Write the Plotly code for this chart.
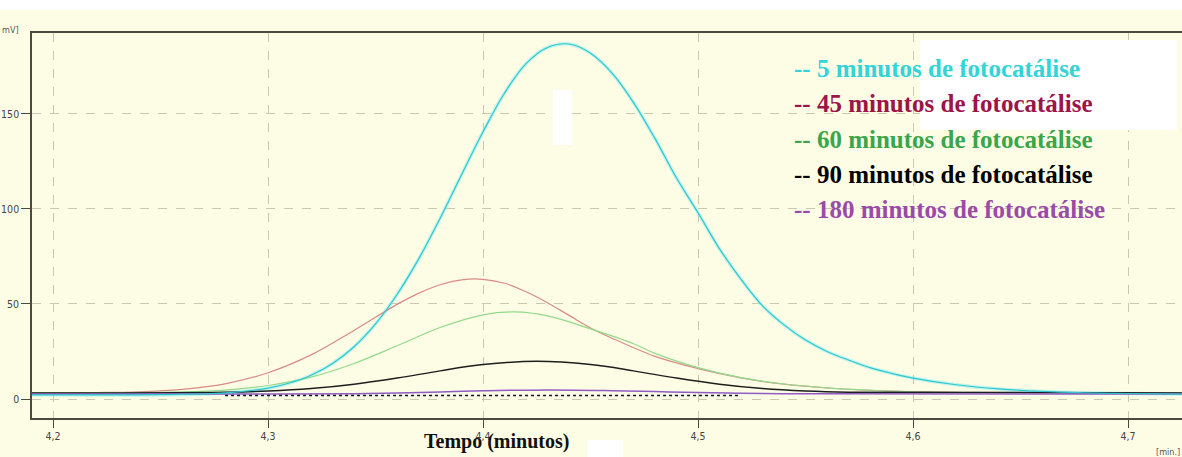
import plotly.graph_objects as go

# Retention time (min) and detector signal (mV) for each photocatalysis time
t_5 = [4.190, 4.260, 4.280, 4.290, 4.300, 4.310, 4.320, 4.330, 4.340, 4.350, 4.360,
       4.370, 4.380, 4.390, 4.400, 4.410, 4.420, 4.430, 4.440, 4.450, 4.460, 4.470,
       4.480, 4.490, 4.500, 4.510, 4.520, 4.530, 4.540, 4.550, 4.560, 4.570, 4.580,
       4.590, 4.600, 4.620, 4.640, 4.660, 4.680, 4.700, 4.725]
mv_5 = [2.2, 2.4, 3.2, 4.2, 5.7, 8.4, 12.5, 18.7, 27.5, 39.5, 55.0,
        73.6, 95.0, 118.0, 140.6, 161.0, 176.5, 185.0, 186.8, 182.0, 171.5, 156.0,
        137.0, 116.3, 98.0, 79.0, 63.0, 49.0, 39.0, 31.0, 25.0, 20.5, 16.5,
        13.5, 11.0, 7.5, 5.3, 4.0, 3.3, 2.9, 2.6]

t_45 = [4.190, 4.220, 4.240, 4.260, 4.280, 4.300, 4.320, 4.340, 4.360, 4.370, 4.380,
        4.390, 4.400, 4.410, 4.420, 4.430, 4.440, 4.450, 4.460, 4.480, 4.500, 4.520,
        4.540, 4.560, 4.580, 4.600, 4.630, 4.725]
mv_45 = [3.2, 3.4, 3.8, 5.1, 8.0, 13.8, 23.2, 36.1, 49.8, 55.6, 60.1,
         62.7, 63.0, 60.9, 56.4, 50.6, 44.0, 37.4, 32.0, 22.4, 16.0, 11.1,
         7.8, 5.8, 4.5, 3.8, 3.3, 3.2]

t_60 = [4.190, 4.260, 4.280, 4.300, 4.320, 4.340, 4.360, 4.380, 4.400, 4.415, 4.430,
        4.450, 4.470, 4.480, 4.500, 4.520, 4.540, 4.560, 4.580, 4.600, 4.630, 4.725]
mv_60 = [3.2, 3.7, 4.7, 7.1, 11.5, 18.7, 28.0, 37.6, 44.3, 45.8, 43.7,
         36.9, 29.1, 24.0, 16.5, 11.2, 7.9, 5.9, 4.6, 3.8, 3.3, 3.2]

t_90 = [4.190, 4.280, 4.300, 4.320, 4.340, 4.360, 4.380, 4.400, 4.425, 4.450, 4.470,
        4.490, 4.510, 4.530, 4.550, 4.570, 4.725]
mv_90 = [3.2, 3.6, 4.2, 5.5, 7.8, 11.0, 14.8, 18.1, 19.8, 18.1, 14.8,
         11.0, 7.8, 5.5, 4.2, 3.6, 3.2]

t_180 = [4.190, 4.300, 4.340, 4.360, 4.380, 4.400, 4.430, 4.460, 4.480, 4.500, 4.530,
         4.560, 4.725]
mv_180 = [2.6, 2.6, 2.8, 3.2, 3.7, 4.3, 4.8, 4.4, 3.9, 3.4, 2.9,
          2.7, 2.6]

# Dotted reference baseline
t_base = [4.280, 4.520]
mv_base = [1.8, 1.8]

x_ticks = [4.2, 4.3, 4.4, 4.5, 4.6, 4.7]
x_tick_text = ["4,2", "4,3", "4,4", "4,5", "4,6", "4,7"]
y_ticks = [0, 50, 100, 150]
y_tick_text = ["0", "50", "100", "150"]

legend_labels = [
    "-- 5 minutos de fotocatálise",
    "-- 45 minutos de fotocatálise",
    "-- 60 minutos de fotocatálise",
    "-- 90 minutos de fotocatálise",
    "-- 180 minutos de fotocatálise",
]
legend_colors = ["#33d4d8", "#9c1448", "#3aa64c", "#000000", "#9a4aa8"]

cream = "#fdfde6"
grid = "#c9c9b2"
spline = dict(shape="spline", smoothing=1.0)

fig = go.Figure()

# soft glow under the main peak
fig.add_trace(go.Scatter(x=t_5, y=mv_5, mode="lines", hoverinfo="skip",
                         line=dict(color="rgba(120,230,235,0.45)", width=3.5, **spline)))
fig.add_trace(go.Scatter(x=t_45, y=mv_45, mode="lines", line=dict(color="#d88b86", width=1.2, **spline)))
fig.add_trace(go.Scatter(x=t_60, y=mv_60, mode="lines", line=dict(color="#92d98c", width=1.2, **spline)))
fig.add_trace(go.Scatter(x=t_90, y=mv_90, mode="lines", line=dict(color="#1e1e1e", width=1.5, **spline)))
fig.add_trace(go.Scatter(x=t_180, y=mv_180, mode="lines", line=dict(color="#8f5cc4", width=1.5, **spline)))
fig.add_trace(go.Scatter(x=t_base, y=mv_base, mode="lines", line=dict(color="#101030", width=1.5, dash="dot")))
fig.add_trace(go.Scatter(x=t_5, y=mv_5, mode="lines", line=dict(color="#2ec7d0", width=1.2, **spline)))

annotations = []
ys = [0.9065, 0.8156, 0.7221, 0.6312, 0.5403]
for label, color, yy in zip(legend_labels, legend_colors, ys):
    annotations.append(dict(
        x=0.661, y=yy, xref="paper", yref="paper", xanchor="left", yanchor="middle",
        text="<b>" + label + "</b>", showarrow=False,
        font=dict(family="Liberation Serif", size=25, color=color)))

annotations.append(dict(x=0.4043, y=-0.0623, xref="paper", yref="paper", xanchor="center", yanchor="middle",
                        text="<b>Tempo (minutos)</b>", showarrow=False,
                        font=dict(family="Liberation Serif", size=20, color="#111111")))
annotations.append(dict(x=1.0, y=-0.088, xref="paper", yref="paper", xanchor="right", yanchor="middle",
                        text="[min.]", showarrow=False,
                        font=dict(family="DejaVu Sans Condensed", size=9, color="#555555")))
annotations.append(dict(x=-0.0278, y=1.008, xref="paper", yref="paper", xanchor="left", yanchor="middle",
                        text="mV]", showarrow=False,
                        font=dict(family="DejaVu Sans Condensed", size=9, color="#555555")))

shapes = [
    # white strip along the top edge
    dict(type="rect", xref="paper", yref="paper", x0=-0.03, x1=1.01, y0=1.060, y1=1.10,
         fillcolor="white", line=dict(width=0), layer="below"),
    # white patches
    dict(type="rect", xref="paper", yref="paper", x0=0.7722, x1=0.9957, y0=0.7481, y1=0.9818,
         fillcolor="white", line=dict(width=0), layer="above"),
    dict(type="rect", xref="paper", yref="paper", x0=0.4530, x1=0.4696, y0=0.7091, y1=0.8519,
         fillcolor="white", line=dict(width=0), layer="above"),
    dict(type="rect", xref="paper", yref="paper", x0=0.4826, x1=0.5139, y0=-0.102, y1=-0.057,
         fillcolor="white", line=dict(width=0), layer="above"),
]

fig.update_layout(
    width=1182, height=457,
    margin=dict(l=32, r=0, t=33, b=39),
    paper_bgcolor=cream, plot_bgcolor=cream,
    showlegend=False,
    annotations=annotations,
    shapes=shapes,
    xaxis=dict(
        range=[4.1902, 4.7251], tickvals=x_ticks, ticktext=x_tick_text,
        showgrid=True, gridcolor=grid, griddash="dash", gridwidth=1,
        showline=True, linecolor="#4a4a42", linewidth=1.5, mirror=True,
        ticks="outside", ticklen=8, tickcolor="#4a4a42",
        tickfont=dict(family="DejaVu Sans Condensed", size=10.5, color="#444444"),
        zeroline=False,
    ),
    yaxis=dict(
        range=[-10, 192.6], tickvals=y_ticks, ticktext=y_tick_text,
        showgrid=True, gridcolor=grid, griddash="dash", gridwidth=1,
        showline=True, linecolor="#4a4a42", linewidth=1.5,
        ticks="outside", ticklen=9, tickcolor="#4a4a42",
        tickfont=dict(family="DejaVu Sans Condensed", size=10.5, color="#444444"),
        zeroline=False,
    ),
)

fig.write_html("out.html")
